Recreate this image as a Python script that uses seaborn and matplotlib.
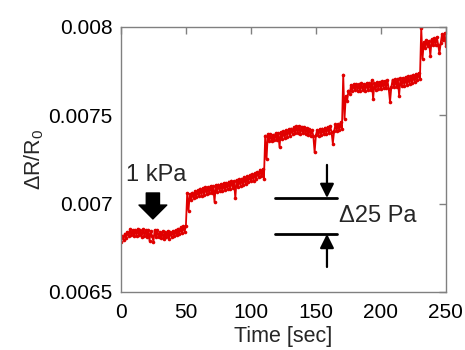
import numpy as np
import pandas as pd
import matplotlib
matplotlib.use("Agg")
import matplotlib.pyplot as plt
import seaborn as sns

# ---- data (dR/R0 in units of 1e-6, one value per second) ----
seg1 = [6780, 6815, 6795, 6830, 6805, 6840, 6815, 6855, 6820, 6850,
        6818, 6852, 6815, 6858, 6820, 6848, 6812, 6855, 6818, 6850,
        6810, 6852, 6790, 6845, 6815, 6785, 6850, 6812, 6848, 6808,
        6840, 6805, 6842, 6800, 6838, 6808, 6845, 6800, 6840, 6812,
        6845, 6815, 6850, 6820, 6858, 6825, 6865, 6835, 6872, 6840,
        6875]
seg2 = [7060, 6960, 7055, 7020, 7062, 7030, 7070, 7035, 7075, 7042,
        7085, 7045, 7088, 7050, 7095, 7055, 7092, 7060, 7100, 7058,
        7098, 7010, 7105, 7068, 7108, 7072, 7112, 7070, 7115, 7075,
        7118, 7080, 7125, 7085, 7130, 7090, 7128, 7030, 7135, 7095,
        7138, 7100, 7142, 7105, 7150, 7110, 7155, 7120, 7160, 7128,
        7165, 7130, 7172, 7140, 7180, 7150, 7192, 7158, 7195, 7140]
seg3 = [7385, 7250, 7392, 7355, 7395, 7352, 7390, 7358, 7398, 7360,
        7400, 7320, 7405, 7368, 7410, 7372, 7415, 7378, 7420, 7385,
        7425, 7392, 7432, 7398, 7438, 7400, 7440, 7395, 7436, 7398,
        7435, 7395, 7428, 7390, 7422, 7385, 7418, 7382, 7290, 7388,
        7418, 7385, 7422, 7390, 7425, 7392, 7430, 7395, 7435, 7400,
        7438, 7405, 7340, 7410, 7448, 7412, 7452, 7415, 7460, 7420]
seg4 = [7730, 7480, 7610, 7580, 7640, 7620, 7672, 7640, 7675, 7642,
        7678, 7640, 7675, 7638, 7680, 7642, 7678, 7640, 7682, 7645,
        7680, 7642, 7700, 7590, 7685, 7645, 7688, 7648, 7690, 7650,
        7692, 7652, 7695, 7655, 7698, 7650, 7575, 7660, 7702, 7658,
        7705, 7662, 7708, 7610, 7710, 7665, 7712, 7668, 7718, 7670,
        7720, 7675, 7725, 7680, 7730, 7690, 7735, 7700, 7740, 7705]
seg5 = [7995, 7820, 7915, 7880, 7925, 7890, 7920, 7835, 7930, 7895,
        7935, 7898, 7942, 7900, 7850, 7910, 7960, 7925, 7965, 7890]

time_sec = list(range(0, 251))
dr_r0 = [v * 1e-6 for v in seg1 + seg2 + seg3 + seg4 + seg5]

x_ticks = [0, 50, 100, 150, 200, 250]
y_ticks = [0.0065, 0.007, 0.0075, 0.008]
y_tick_labels = ["0.0065", "0.007", "0.0075", "0.008"]

RED = "#e00000"
GRAY = "#808080"

sns.set_style("white")
plt.rcParams["font.family"] = ["Liberation Sans", "DejaVu Sans"]
plt.rcParams["mathtext.fontset"] = "custom"
plt.rcParams["mathtext.rm"] = "Liberation Sans"

df = pd.DataFrame({"time": time_sec, "value": dr_r0})

fig = plt.figure(figsize=(4.65, 3.5), dpi=100)
ax = fig.add_axes([0.260, 0.166, 0.699, 0.757])

sns.lineplot(data=df, x="time", y="value", color=RED, lw=1.3, marker="o",
             markersize=2.6, markeredgewidth=0, ax=ax)

ax.set_xlim(0, 250)
ax.set_ylim(0.0065, 0.008)
ax.set_xticks(x_ticks)
ax.set_xticklabels([str(t) for t in x_ticks])
ax.set_yticks(y_ticks)
ax.set_yticklabels(y_tick_labels)

for s in ax.spines.values():
    s.set_color(GRAY)
    s.set_linewidth(1.0)
ax.tick_params(direction="in", length=5, width=1, color=GRAY, top=True, right=True,
               labelsize=15, labelcolor="black")
ax.tick_params(axis="x", pad=8)
ax.tick_params(axis="y", pad=6)

ax.set_xlabel("Time [sec]", fontsize=15.5, labelpad=3)
ax.set_ylabel(r"ΔR/R$_\mathregular{0}$", fontsize=15.5, labelpad=2)

# ---- annotations ----
ax.text(27, 0.007162, "1 kPa", fontsize=17, ha="center", va="center")
ax.annotate("", xy=(24.6, 0.006913), xytext=(24.6, 0.00706),
            arrowprops=dict(arrowstyle="simple,head_length=1.0,head_width=2.0,tail_width=0.95",
                            mutation_scale=10, color="black", shrinkA=0, shrinkB=0))

ax.plot([118.5, 166], [0.007032, 0.007032], color="black", lw=2)
ax.plot([118.5, 166], [0.006828, 0.006828], color="black", lw=2)
ax.annotate("", xy=(158.5, 0.007032), xytext=(158.5, 0.007219),
            arrowprops=dict(arrowstyle="-|>,head_length=0.6,head_width=0.3",
                            mutation_scale=14, color="black", lw=1.6, shrinkA=0, shrinkB=0))
ax.annotate("", xy=(158.5, 0.006828), xytext=(158.5, 0.006641),
            arrowprops=dict(arrowstyle="-|>,head_length=0.6,head_width=0.3",
                            mutation_scale=14, color="black", lw=1.6, shrinkA=0, shrinkB=0))
ax.text(167.5, 0.00693, "Δ25 Pa", fontsize=17, ha="left", va="center")

fig.savefig("out.png", dpi=100)
